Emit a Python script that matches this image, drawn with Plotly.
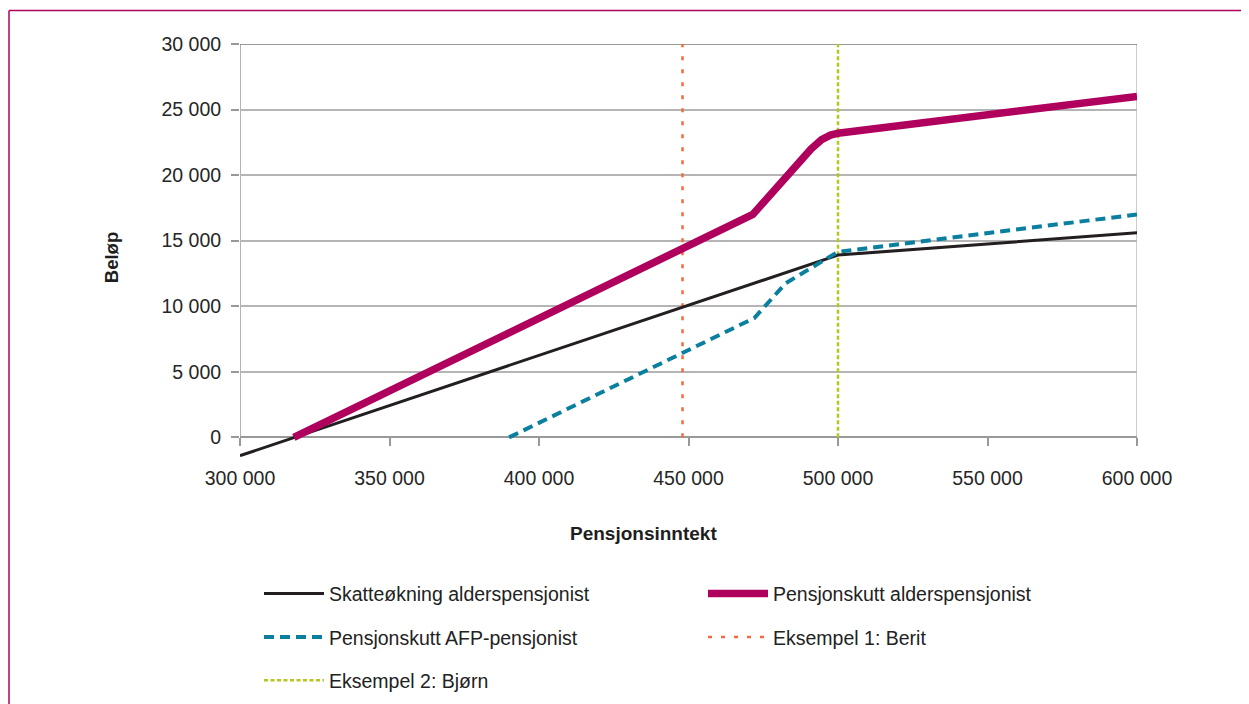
import plotly.graph_objects as go

# ---- data ----
skatt_x = [300000, 500000, 600000]
skatt_y = [-1400, 13900, 15600]

kutt_alder_x = [318000, 471500, 491000, 494500, 497500, 500000, 600000]
kutt_alder_y = [0, 17000, 22000, 22700, 23050, 23200, 26000]

kutt_afp_x = [390000, 472000, 482500, 492500, 500000, 600000]
kutt_afp_y = [0, 9100, 11750, 13150, 14150, 17000]

berit_x = [448000, 448000]
bjorn_x = [500000, 500000]
vline_y = [0, 30000]

x_ticks = [300000, 350000, 400000, 450000, 500000, 550000, 600000]
y_ticks = [0, 5000, 10000, 15000, 20000, 25000, 30000]

names = ["Skatteøkning alderspensjonist", "Pensjonskutt alderspensjonist",
         "Pensjonskutt AFP-pensjonist", "Eksempel 1: Berit", "Eksempel 2: Bjørn"]

FONT = "Liberation Sans, Arial, sans-serif"

fig = go.Figure()
fig.add_trace(go.Scatter(x=berit_x, y=vline_y, mode="lines", name=names[3],
                         line=dict(color="#F36B3B", width=2.5, dash="4px,9px"),
                         legend="legend2", legendgroup="g4", legendrank=2))
fig.add_trace(go.Scatter(x=bjorn_x, y=vline_y, mode="lines", name=names[4],
                         line=dict(color="#B5C61E", width=2.5, dash="4px,2.5px"),
                         legend="legend", legendgroup="g5", legendrank=3))
fig.add_trace(go.Scatter(x=skatt_x, y=skatt_y, mode="lines", name=names[0],
                         line=dict(color="#231F20", width=3),
                         legend="legend", legendgroup="g1", legendrank=1))
fig.add_trace(go.Scatter(x=kutt_afp_x, y=kutt_afp_y, mode="lines", name=names[2],
                         line=dict(color="#0A7F9E", width=4, dash="10px,6px"),
                         legend="legend", legendgroup="g3", legendrank=2))
fig.add_trace(go.Scatter(x=kutt_alder_x, y=kutt_alder_y, mode="lines", name=names[1],
                         line=dict(color="#B0005E", width=7.5),
                         legend="legend2", legendgroup="g2", legendrank=1))

# page-pixel helpers (page has an 8px body offset)
H_PAPER0 = 456.65
H_PAPER = 412.65
W0 = 240
W = 897

def px_x(p):
    return (p - W0) / W

def px_y(p):
    return (H_PAPER0 - p) / H_PAPER

zero_pos = 1500 / 31500

legend_common = dict(xanchor="left", yanchor="top", orientation="v", itemwidth=60,
                     tracegroupgap=15, traceorder="grouped",
                     font=dict(size=19.5, color="#222222", family=FONT),
                     bgcolor="rgba(0,0,0,0)")

FIG_H = 740  # taller than the window so the legend never pushes the margins

fig.update_layout(
    width=1249, height=FIG_H,
    margin=dict(l=232, r=120, t=36, b=FIG_H - 36 - 413, pad=0),
    plot_bgcolor="white", paper_bgcolor="white",
    separators=", ",
    font=dict(family=FONT, color="#333333", size=18),
    xaxis=dict(range=[300000, 600000], tickvals=x_ticks, tickformat=",d",
               anchor="free", position=zero_pos, showline=False, showgrid=False,
               zeroline=False, ticks="outside", ticklen=8, tickwidth=1.5,
               tickcolor="#999999", ticklabelstandoff=15,
               tickfont=dict(size=19.5, color="#262626", family=FONT)),
    yaxis=dict(range=[-1500, 30000], tickvals=y_ticks, tickformat=",d",
               showgrid=True, gridcolor="#B5B5B5", gridwidth=1.5,
               zeroline=True, zerolinecolor="#999999", zerolinewidth=2,
               showline=False, ticks="outside", ticklen=8, tickwidth=1.5,
               tickcolor="#999999", ticklabelstandoff=6,
               tickfont=dict(size=19.5, color="#262626", family=FONT)),
    legend=dict(x=px_x(259), y=px_y(574), **legend_common),
    legend2=dict(x=px_x(703), y=px_y(574), **legend_common),
    showlegend=True,
    annotations=[
        dict(text="<b>Pensjonsinntekt</b>", xref="paper", yref="paper",
             x=px_x(643), y=px_y(533), xanchor="center", yanchor="middle",
             showarrow=False, font=dict(size=19, color="#1E1E1E", family=FONT)),
        dict(text="<b>Beløp</b>", xref="paper", yref="paper", textangle=-90,
             x=px_x(111), y=px_y(258), xanchor="center", yanchor="middle",
             showarrow=False, font=dict(size=18.5, color="#1E1E1E", family=FONT)),
    ],
    shapes=[
        dict(type="line", xref="x", yref="y", x0=300000, x1=300000, y0=0, y1=30000,
             line=dict(color="#999999", width=1.5), layer="below"),
        dict(type="line", xref="x", yref="y", x0=600000, x1=600000, y0=0, y1=30000,
             line=dict(color="#BBBBBB", width=1.5), layer="below"),
        dict(type="line", xref="x", yref="y", x0=300000, x1=600000, y0=30000, y1=30000,
             line=dict(color="#777777", width=1.5), layer="below"),
        dict(type="line", xref="paper", yref="paper", x0=px_x(9), x1=px_x(1270),
             y0=px_y(10.5), y1=px_y(10.5), line=dict(color="#B0005E", width=1.5)),
        dict(type="line", xref="paper", yref="paper", x0=px_x(9), x1=px_x(9),
             y0=px_y(10.5), y1=px_y(760), line=dict(color="#B0005E", width=1.5)),
    ],
)

fig.write_html("out.html")
